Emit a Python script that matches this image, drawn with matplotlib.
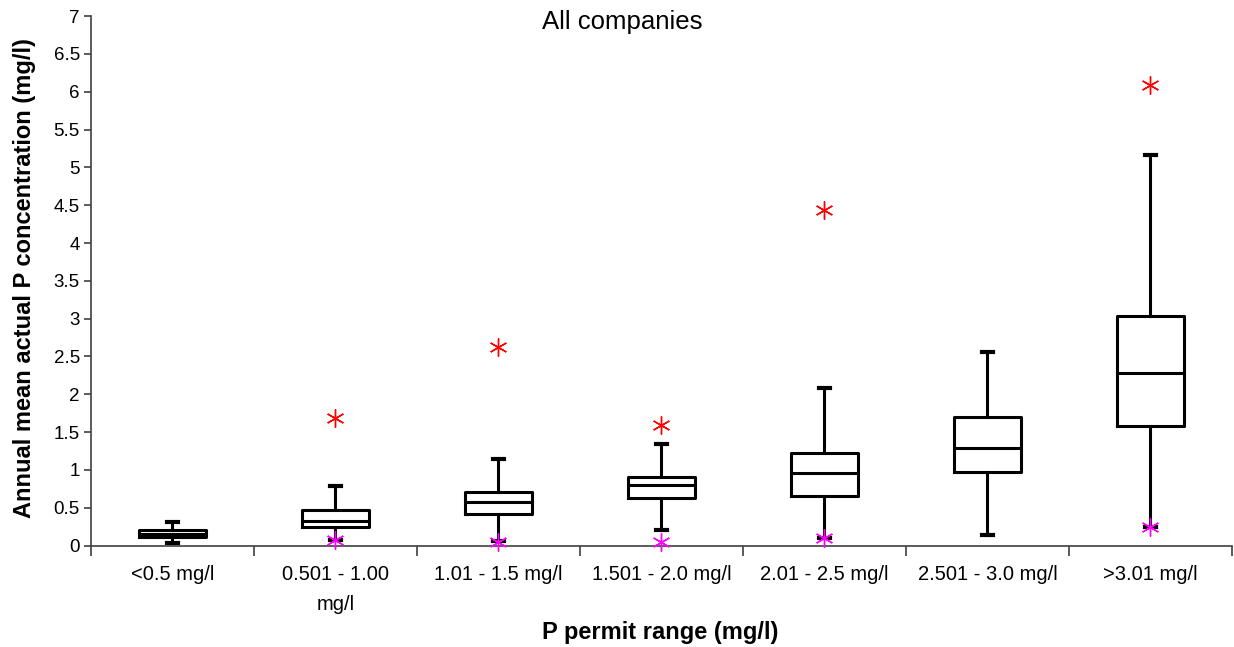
import numpy as np
import matplotlib
matplotlib.use("Agg")
import matplotlib.pyplot as plt

plt.rcParams["font.family"] = ["Liberation Sans", "DejaVu Sans"]

categories = ["<0.5 mg/l", "0.501 - 1.00\nmg/l", "1.01 - 1.5 mg/l", "1.501 - 2.0 mg/l",
              "2.01 - 2.5 mg/l", "2.501 - 3.0 mg/l", ">3.01 mg/l"]
whislo = [0.03, 0.08, 0.06, 0.20, 0.10, 0.14, 0.25]
q1 = [0.12, 0.24, 0.42, 0.63, 0.66, 0.97, 1.58]
med = [0.16, 0.32, 0.58, 0.80, 0.96, 1.29, 2.28]
q3 = [0.21, 0.47, 0.71, 0.91, 1.23, 1.70, 3.03]
whishi = [0.31, 0.79, 1.15, 1.34, 2.09, 2.56, 5.16]
max_point = [np.nan, 1.69, 2.62, 1.60, 4.43, np.nan, 6.09]
min_point = [np.nan, 0.07, 0.05, 0.05, 0.10, np.nan, 0.25]

stats = []
for i, name in enumerate(categories):
    stats.append({"label": name, "whislo": whislo[i], "q1": q1[i], "med": med[i],
                  "q3": q3[i], "whishi": whishi[i], "fliers": []})

fig = plt.figure(figsize=(12.34, 6.47), dpi=100)
ax = fig.add_axes([0.0737, 0.1567, 0.9246, 0.8185])

pos = np.arange(1, len(categories) + 1)
lw = 2.2
ax.bxp(stats, positions=pos, widths=0.41, capwidths=0.065, showfliers=False,
       boxprops=dict(color="black", linewidth=lw),
       whiskerprops=dict(color="black", linewidth=lw),
       capprops=dict(color="black", linewidth=lw + 0.8),
       medianprops=dict(color="black", linewidth=lw))

ax.plot(pos, max_point, linestyle="none", marker=(6, 2, 0), markersize=13,
        markeredgecolor="red", markeredgewidth=1.0, clip_on=False, zorder=5)
ax.plot(pos, min_point, linestyle="none", marker=(6, 2, 0), markersize=13,
        markeredgecolor="#ff00ff", markeredgewidth=1.0, clip_on=False, zorder=5)

ax.set_xlim(0.5, len(categories) + 0.5)
ax.set_ylim(0, 7)
ax.set_yticks(np.arange(0, 7.01, 0.5))
ax.set_yticklabels(["0"] + [f"{v:g}" for v in np.arange(0.5, 7.01, 0.5)])

ax.set_xticks(pos)
ax.set_xticklabels(categories, fontsize=14.5, linespacing=1.7)
ax.tick_params(axis="x", which="major", length=0, pad=14)
ax.set_xticks(np.arange(0.5, len(categories) + 0.51, 1), minor=True)
ax.tick_params(axis="x", which="minor", length=7, width=1.2, color="#404040", direction="out")
ax.tick_params(axis="y", length=5, width=1.2, color="#404040", labelsize=13.5, pad=3)

for s in ["top", "right"]:
    ax.spines[s].set_visible(False)
for s in ["left", "bottom"]:
    ax.spines[s].set_color("#404040")
    ax.spines[s].set_linewidth(1.2)

fig.text(0.504, 1 - 22 / 647, "All companies", fontsize=18.5, ha="center", va="center")
fig.text(0.535, 1 - 633 / 647, "P permit range (mg/l)", fontsize=17, fontweight="bold",
         ha="center", va="center")
fig.text(0.0195, 1 - 278 / 647, "Annual mean actual P concentration (mg/l)", fontsize=17,
         fontweight="bold", rotation=90, ha="center", va="center")

fig.savefig("out.png", dpi=100)
